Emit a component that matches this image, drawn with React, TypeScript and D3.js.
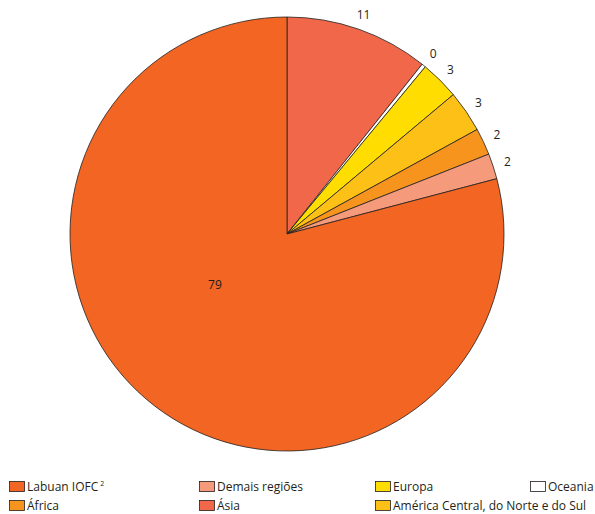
import React from "react";
import * as d3 from "d3";

const categories = ["Ásia", "Oceania", "Europa", "América Central, do Norte e do Sul", "África", "Demais regiões", "Labuan IOFC"];
const values = [10.7, 0.3, 2.9, 3.1, 2.0, 1.9, 79.1];
const labels = ["11", "0", "3", "3", "2", "2", "79"];
const colors = ["#F0674A", "#FFFFFF", "#FFDD00", "#FDC016", "#F7941D", "#F59A7B", "#F26522"];

const legendRows = [
  ["Labuan IOFC", "Demais regiões", "Europa", "Oceania"],
  ["África", "Ásia", "América Central, do Norte e do Sul"],
];
const legendX = [9, 199, 375, 530];

export default function App() {
  const W = 595, H = 514;
  const cx = 287, cy = 234, r = 217;
  const pie = d3.pie<number>().sort(null).value((d) => d)(values);
  const arc = d3.arc<d3.PieArcDatum<number>>().innerRadius(0).outerRadius(r);
  const font = "'Open Sans', sans-serif";
  return (
    <svg width={W} height={H} style={{ position: "absolute", left: 0, top: 0, background: "#fff" }}>
      <g transform={`translate(${cx},${cy})`}>
        {pie.map((p, i) => (
          <path key={i} d={arc(p) || ""} fill={colors[i]} stroke="#231F20" strokeWidth={0.8} strokeLinejoin="round" />
        ))}
        {pie.map((p, i) => {
          const last = i === pie.length - 1;
          const a = last ? (235 * Math.PI) / 180 : (p.startAngle + p.endAngle) / 2;
          const rr = last ? 88 : r + 15;
          const x = Math.sin(a) * rr;
          const y = -Math.cos(a) * rr;
          return (
            <text key={"l" + i} x={x} y={y} dy="0.35em" textAnchor="middle" fontFamily={font} fontSize={12} fill="#231F20">
              {labels[i]}
            </text>
          );
        })}
      </g>
      {legendRows.map((row, ri) =>
        row.map((name, ci) => {
          const idx = categories.indexOf(name);
          const x = legendX[ci];
          const y = 481 + ri * 19;
          return (
            <g key={name}>
              <rect x={x + 0.5} y={y + 0.5} width={15} height={10} fill={colors[idx]} stroke="#231F20" strokeWidth={0.8} />
              <text x={x + 18} y={y + 10} fontFamily={font} fontSize={12} fill="#231F20">
                {name}
                {name === "Labuan IOFC" ? (
                  <tspan fontSize={7} dy={-5} dx={2}>2</tspan>
                ) : null}
              </text>
            </g>
          );
        })
      )}
    </svg>
  );
}
